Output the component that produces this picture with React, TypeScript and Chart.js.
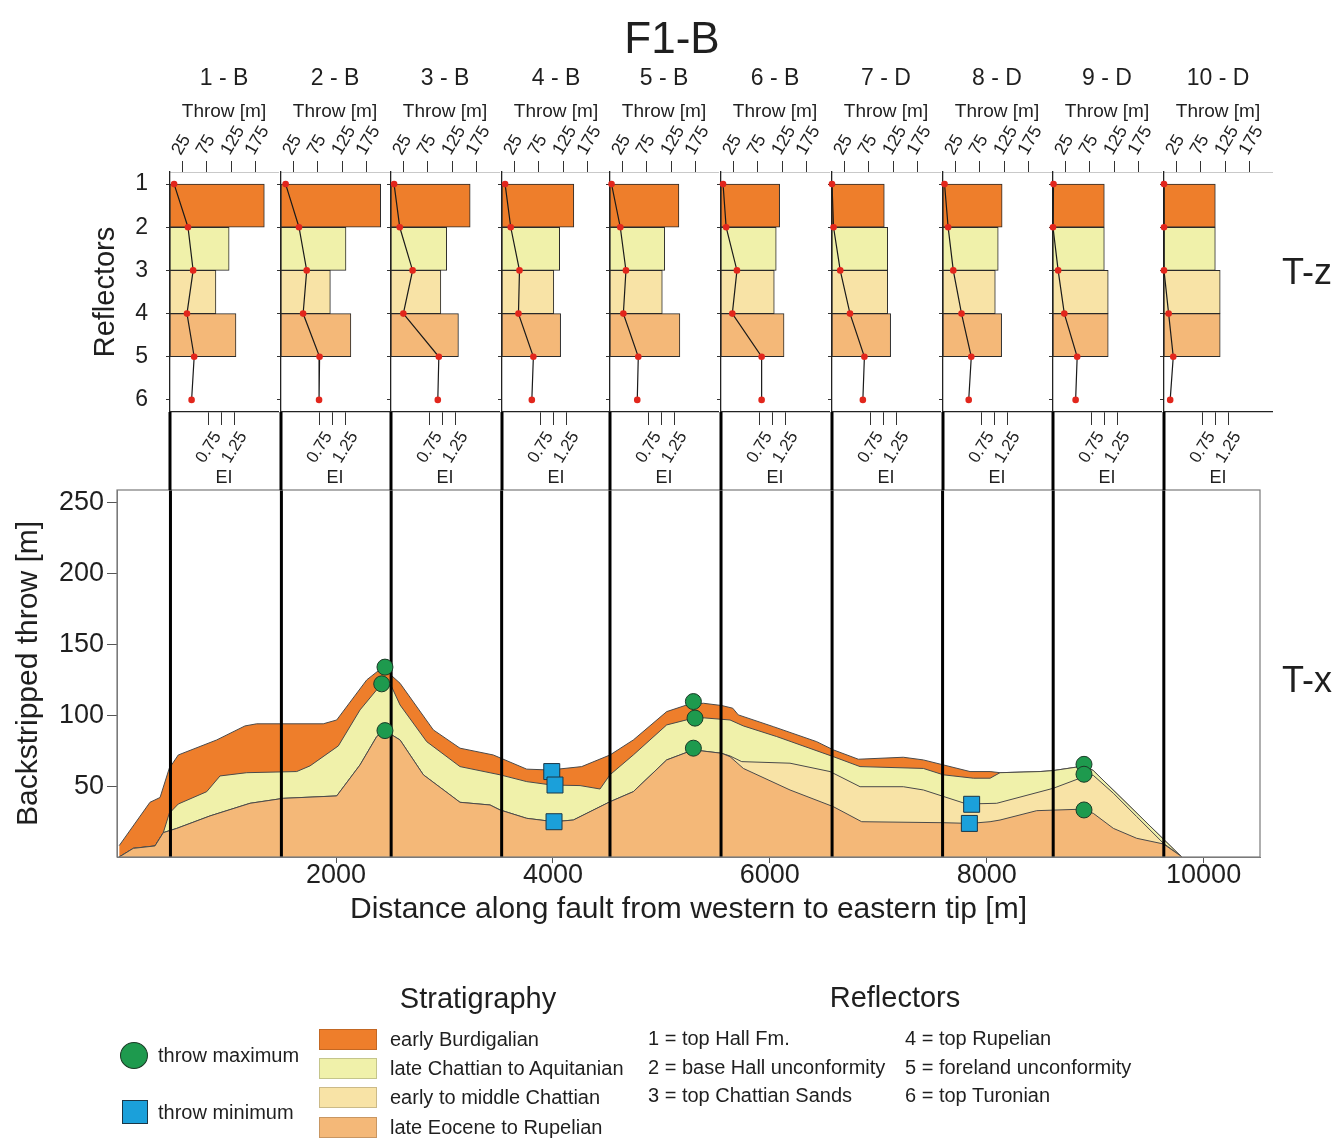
import React, { useEffect, useRef } from 'react';
import { Chart, registerables } from 'chart.js';

Chart.register(...registerables);

const FONT = "'Liberation Sans', Arial, Helvetica, sans-serif";
const INK = '#1f1f1f';

// ---------------- T-z panels ----------------
const panelLabels = ['1 - B', '2 - B', '3 - B', '4 - B', '5 - B', '6 - B', '7 - D', '8 - D', '9 - D', '10 - D'];
const panelPositions = [473, 1496, 2508, 3527, 4526, 5550, 6574, 7593, 8613, 9633]; // m along fault

const reflectors = [1, 2, 3, 4, 5, 6];
const reflectorTickLabels = ['1', '2', '3', '4', '5', '6'];
const throwTicks = [25, 75, 125, 175];
const throwTickLabels = ['25', '75', '125', '175'];
const eiTicks = [0.75, 1.0, 1.25];
const eiTickLabels = ['0.75', '', '1.25'];

// throw [m] of each reflector interval, per panel 1..10
const throwInterval12 = [193, 204, 162, 147, 141, 120, 107, 121, 105, 105];
const throwInterval23 = [121, 133, 114, 118, 112, 113, 114, 113, 105, 105];
const throwInterval34 = [94, 101, 102, 106, 107, 109, 114, 107, 113, 115];
const throwInterval45 = [135, 143, 138, 120, 143, 129, 120, 120, 113, 115];

// expansion index at each reflector, per panel 1..10
const eiAtReflector1 = [0.08, 0.09, 0.06, 0.06, 0.03, 0.04, 0.0, 0.03, 0.01, 0.0];
const eiAtReflector2 = [0.35, 0.35, 0.17, 0.17, 0.2, 0.1, 0.03, 0.1, 0.0, 0.0];
const eiAtReflector3 = [0.45, 0.5, 0.42, 0.34, 0.31, 0.31, 0.16, 0.2, 0.1, 0.0];
const eiAtReflector4 = [0.33, 0.43, 0.24, 0.32, 0.26, 0.22, 0.35, 0.36, 0.22, 0.09];
const eiAtReflector5 = [0.47, 0.75, 0.93, 0.61, 0.55, 0.79, 0.63, 0.55, 0.47, 0.18];
const eiAtReflector6 = [0.42, 0.74, 0.91, 0.58, 0.53, 0.79, 0.6, 0.5, 0.44, 0.12];

const layerNames = ['early Burdigalian', 'late Chattian to Aquitanian', 'early to middle Chattian', 'late Eocene to Rupelian'];
const layerColors = ['#EE7E2B', '#F0F1AA', '#F8E3A6', '#F4B878'];

// ---------------- T-x chart ----------------
const xTicks = [2000, 4000, 6000, 8000, 10000];
const xTickLabels = ['2000', '4000', '6000', '8000', '10000'];
const yTicks = [50, 100, 150, 200, 250];
const yTickLabels = ['50', '100', '150', '200', '250'];

const burdigalianTopX = [0, 284, 377, 462, 545, 899, 1160, 1268, 1882, 2006, 2283, 2399, 2440, 2590, 2897, 3143, 3450, 3758, 3973, 4265, 4526, 4741, 5049, 5234, 5387, 5556, 5658, 5709, 6032, 6432, 6586, 6816, 7231, 7416, 7600, 7846, 8031, 8123, 8492, 8614, 8860, 8897, 8983, 9798];
const burdigalianTopY = [8, 38.6, 42, 62.6, 72, 82.6, 92.5, 94, 94, 96.7, 125, 132, 133, 122.6, 89.7, 76.8, 72, 62, 61.4, 63.8, 72, 82.6, 102.6, 107.3, 108.5, 106.9, 105, 100.3, 92, 81.4, 75.6, 69, 70.4, 68.5, 65, 60.3, 60.3, 59.5, 60.3, 61, 63.8, 64.7, 61, 0];

const aquitanianTopX = [0, 130, 330, 407, 462, 545, 807, 930, 1176, 1637, 1760, 2021, 2221, 2375, 2421, 2513, 2590, 2836, 3143, 3512, 3758, 3989, 4250, 4434, 4526, 4741, 5049, 5295, 5326, 5633, 5756, 6063, 6586, 6832, 7416, 7600, 7877, 8031, 8123, 8492, 8614, 8860, 8897, 8983, 9798];
const aquitanianTopY = [0, 6.1, 7.8, 17.2, 30.8, 37.4, 46.1, 57.2, 59.5, 60.3, 64.3, 78.4, 103.8, 118, 122.6, 120, 107.3, 81.4, 63.8, 58, 53.2, 50.8, 50.4, 48, 58, 72, 93.2, 98, 98.6, 96.7, 92.5, 85, 70.8, 63.8, 62.5, 58, 55.6, 55.6, 59.5, 60.3, 61, 63.8, 64.7, 61, 0];

const chattianTopX = [0, 130, 330, 407, 531, 838, 1207, 1514, 2006, 2221, 2375, 2451, 2513, 2590, 2805, 3143, 3420, 3512, 3758, 4010, 4188, 4526, 4741, 5049, 5295, 5556, 5633, 5741, 6186, 6555, 6832, 7231, 7416, 7816, 8092, 8614, 8860, 8897, 8983, 9168, 9383, 9629, 9782, 9798];
const chattianTopY = [0, 6.1, 7.8, 17.2, 20.2, 29, 37.9, 41.4, 43.1, 65, 85, 89.7, 86.2, 82.6, 58, 38.6, 36.7, 33.2, 27.3, 24.9, 26.1, 39, 46.1, 68.5, 75.6, 73.2, 71.3, 67.3, 66.2, 60.3, 49.6, 49.6, 47.3, 37.4, 37.9, 48.5, 55.6, 58, 57.6, 45, 28.5, 9.7, 1.1, 0];

const rupelianTopX = [0, 130, 330, 407, 531, 838, 1207, 1514, 2006, 2221, 2375, 2451, 2513, 2590, 2805, 3143, 3420, 3512, 3758, 4010, 4188, 4526, 4741, 5049, 5295, 5556, 5633, 5756, 6186, 6586, 6847, 7600, 7846, 8031, 8123, 8461, 8860, 8897, 8983, 9168, 9383, 9629, 9782, 9798];
const rupelianTopY = [0, 6.1, 7.8, 17.2, 20.2, 29, 37.9, 41.4, 43.1, 65, 85, 89.7, 86.2, 82.6, 58, 38.6, 36.7, 33.2, 27.3, 24.9, 26.1, 39, 46.1, 68.5, 75.6, 73.2, 70.8, 62.5, 47.3, 35.5, 24.9, 24.2, 23.7, 24.9, 26.1, 32.7, 33.7, 33.2, 30.8, 20.2, 13.2, 9.2, 1.1, 0];

const maxThrowX = [2451, 2421, 2451, 5295, 5310, 5295, 8897, 8897, 8897];
const maxThrowY = [134, 122.2, 89.2, 109.7, 98, 76.8, 65.4, 58.4, 33.2];
const minThrowX = [3989, 4019, 4010, 7861, 7840];
const minThrowY = [60.3, 50.8, 24.9, 37.2, 23.7];

const markerLabels = ['throw maximum', 'throw minimum'];
const reflectorLegend = ['1 = top Hall Fm.', '2 = base Hall unconformity', '3 = top Chattian Sands', '4 = top Rupelian', '5 = foreland unconformity', '6 = top Turonian'];

// ---------------- layout ----------------
const W = 1336;
const H = 1138;
const X_MIN = -20;
const X_MAX = 10520;
const Y_MIN = 0;
const Y_MAX = 259;
const MAIN = { left: 117, right: 1260, top: 490, bottom: 857 };
const X_AXIS_BOTTOM = 928;

const PANEL_TOP = 95;
const TOP_AXIS_H = 77;
const PLOT_H = 240;
const BOTTOM_AXIS_H = 78;
const PANEL_W = 108;
const PANEL_RIGHT_PAD = 4;
const FIRST_YW = 85;
const OTHER_YW = 6;
const THROW_MAX = 221;
const EI_MAX = 2.1;
const R_MIN = 0.72;
const R_MAX = 6.28;

function panelAxisX(i: number) {
  return Math.round(MAIN.left + ((panelPositions[i] - X_MIN) / (X_MAX - X_MIN)) * (MAIN.right - MAIN.left));
}
function panelYW(i: number) {
  return i === 0 ? FIRST_YW : OTHER_YW;
}

const pts = (xs: number[], ys: (number | null)[]) => xs.map((x, i) => ({ x, y: ys[i] }));

const stemPlugin = {
  id: 'stem',
  afterDraw(chart: any) {
    const { ctx, chartArea: a } = chart;
    ctx.save();
    ctx.strokeStyle = '#000';
    ctx.lineWidth = 3;
    ctx.beginPath();
    ctx.moveTo(a.left, a.bottom);
    ctx.lineTo(a.left, chart.height);
    ctx.stroke();
    ctx.restore();
  },
};

const framePlugin = {
  id: 'frame',
  afterDatasetsDraw(chart: any) {
    const { ctx, chartArea: a } = chart;
    ctx.save();
    ctx.strokeStyle = '#7a7a7a';
    ctx.lineWidth = 1.2;
    ctx.strokeRect(a.left, a.top, a.right - a.left, a.bottom - a.top);
    ctx.restore();
  },
};

function panelConfig(i: number): any {
  const first = i === 0;
  const yw = panelYW(i);
  const intervals = [throwInterval12, throwInterval23, throwInterval34, throwInterval45];
  const eiRows = [eiAtReflector1, eiAtReflector2, eiAtReflector3, eiAtReflector4, eiAtReflector5, eiAtReflector6];
  return {
    type: 'bar',
    data: {
      datasets: [
        {
          type: 'line',
          label: 'EI',
          indexAxis: 'y',
          xAxisID: 'x2',
          yAxisID: 'y',
          data: reflectors.map((r, k) => ({ x: eiRows[k][i], y: r })),
          borderColor: '#1a1a1a',
          borderWidth: 1.2,
          pointRadius: 3.3,
          pointBackgroundColor: '#E2261C',
          pointBorderWidth: 0,
          tension: 0,
          clip: false,
        },
        {
          type: 'bar',
          label: 'Throw',
          xAxisID: 'x',
          yAxisID: 'y',
          data: intervals.map((t, k) => ({ x: t[i], y: (reflectors[k] + reflectors[k + 1]) / 2 })),
          backgroundColor: layerColors,
          borderColor: '#2a2a2a',
          borderWidth: 1,
          borderSkipped: false,
          categoryPercentage: 1,
          barPercentage: 1,
        },
      ],
    },
    options: {
      indexAxis: 'y',
      animation: false,
      responsive: false,
      maintainAspectRatio: false,
      layout: { padding: { left: 0, right: PANEL_RIGHT_PAD, top: 0, bottom: 0 } },
      plugins: { legend: { display: false }, tooltip: { enabled: false }, title: { display: false } },
      scales: {
        x: {
          type: 'linear',
          position: 'top',
          min: 0,
          max: THROW_MAX,
          offset: false,
          afterBuildTicks: (s: any) => {
            s.ticks = throwTicks.map((value) => ({ value }));
          },
          ticks: {
            callback: (_v: any, k: number) => throwTickLabels[k],
            font: { size: 18, family: FONT },
            color: INK,
            minRotation: 60,
            maxRotation: 60,
            autoSkip: false,
            padding: 2,
            labelOffset: 13,
          },
          grid: { drawOnChartArea: false, drawTicks: true, tickLength: 11, tickColor: '#333', tickWidth: 1 },
          border: { display: true, color: '#c9c9c9', width: 1 },
          title: { display: true, text: 'Throw [m]', font: { size: 19, family: FONT }, color: INK, padding: { top: 5, bottom: 0 } },
          afterFit: (s: any) => {
            s.height = TOP_AXIS_H;
            s.paddingLeft = 0;
            s.paddingRight = 0;
          },
        },
        x2: {
          type: 'linear',
          position: 'bottom',
          min: 0,
          max: EI_MAX,
          offset: false,
          afterBuildTicks: (s: any) => {
            s.ticks = eiTicks.map((value) => ({ value }));
          },
          ticks: {
            callback: (_v: any, k: number) => eiTickLabels[k],
            font: { size: 17, family: FONT },
            color: INK,
            minRotation: 58,
            maxRotation: 58,
            autoSkip: false,
            padding: 3,
            labelOffset: 9,
          },
          grid: { drawOnChartArea: false, drawTicks: true, tickLength: 13, tickColor: '#333', tickWidth: 1 },
          border: { display: true, color: '#222', width: 1.3 },
          title: { display: true, text: 'EI', font: { size: 18, family: FONT }, color: INK, padding: { top: 0, bottom: 1 } },
          afterFit: (s: any) => {
            s.height = BOTTOM_AXIS_H;
            s.paddingLeft = 0;
            s.paddingRight = 0;
          },
        },
        y: {
          type: 'linear',
          position: 'left',
          reverse: true,
          min: R_MIN,
          max: R_MAX,
          offset: false,
          afterBuildTicks: (s: any) => {
            s.ticks = reflectors.map((value) => ({ value }));
          },
          ticks: {
            display: first,
            callback: (_v: any, k: number) => reflectorTickLabels[k],
            font: { size: 23, family: FONT },
            color: INK,
            padding: 18,
          },
          grid: { drawOnChartArea: false, drawTicks: true, tickLength: 4, tickColor: '#333', tickWidth: 1, offset: false },
          border: { display: true, color: '#222', width: 1.3 },
          title: { display: first, text: 'Reflectors', font: { size: 29, family: FONT }, color: INK, padding: { top: 4, bottom: 0 } },
          afterFit: (s: any) => {
            s.width = yw;
            s.paddingTop = 0;
            s.paddingBottom = 0;
          },
        },
      },
    },
    plugins: [stemPlugin],
  };
}

function mainConfig(): any {
  const area = (label: string, xs: number[], ys: number[], color: string) => ({
    type: 'line',
    label,
    data: pts(xs, ys),
    backgroundColor: color,
    borderColor: '#4a4a4a',
    borderWidth: 1,
    fill: 'origin',
    pointRadius: 0,
    tension: 0,
  });
  const verticals = panelPositions.flatMap((p) => [
    { x: p, y: Y_MIN },
    { x: p, y: Y_MAX },
    { x: p, y: null },
  ]);
  return {
    type: 'line',
    data: {
      datasets: [
        {
          label: markerLabels[0],
          data: pts(maxThrowX, maxThrowY),
          showLine: false,
          pointStyle: 'circle',
          pointRadius: 8,
          pointBackgroundColor: '#1E9A4E',
          pointBorderColor: '#1c3b27',
          pointBorderWidth: 1,
        },
        {
          label: markerLabels[1],
          data: pts(minThrowX, minThrowY),
          showLine: false,
          pointStyle: 'rect',
          pointRadius: 11.3,
          pointBackgroundColor: '#1BA0DA',
          pointBorderColor: '#1b3646',
          pointBorderWidth: 1,
        },
        {
          label: 'sections',
          data: verticals,
          borderColor: '#000',
          borderWidth: 3,
          pointRadius: 0,
          spanGaps: false,
          fill: false,
        },
        area(layerNames[3], rupelianTopX, rupelianTopY, layerColors[3]),
        area(layerNames[2], chattianTopX, chattianTopY, layerColors[2]),
        area(layerNames[1], aquitanianTopX, aquitanianTopY, layerColors[1]),
        area(layerNames[0], burdigalianTopX, burdigalianTopY, layerColors[0]),
      ],
    },
    options: {
      animation: false,
      responsive: false,
      maintainAspectRatio: false,
      layout: { padding: { left: 8, right: W - MAIN.right, top: MAIN.top, bottom: H - X_AXIS_BOTTOM } },
      plugins: { legend: { display: false }, tooltip: { enabled: false } },
      scales: {
        x: {
          type: 'linear',
          min: X_MIN,
          max: X_MAX,
          afterBuildTicks: (s: any) => {
            s.ticks = xTicks.map((value) => ({ value }));
          },
          ticks: {
            callback: (_v: any, k: number) => xTickLabels[k],
            font: { size: 27, family: FONT },
            color: INK,
            padding: -4,
            maxRotation: 0,
            autoSkip: false,
          },
          grid: { drawOnChartArea: false, drawTicks: true, tickLength: 6, tickColor: '#555' },
          border: { display: true, color: '#7a7a7a' },
          title: {
            display: true,
            text: 'Distance along fault from western to eastern tip [m]',
            font: { size: 30, family: FONT },
            color: INK,
            padding: 0,
          },
          afterFit: (s: any) => {
            s.height = X_AXIS_BOTTOM - MAIN.bottom;
            s.paddingLeft = 0;
            s.paddingRight = 0;
          },
        },
        y: {
          type: 'linear',
          min: Y_MIN,
          max: Y_MAX,
          afterBuildTicks: (s: any) => {
            s.ticks = yTicks.map((value) => ({ value }));
          },
          ticks: {
            callback: (_v: any, k: number) => yTickLabels[k],
            font: { size: 27, family: FONT },
            color: INK,
            padding: 3,
          },
          grid: { drawOnChartArea: false, drawTicks: true, tickLength: 10, tickColor: '#555' },
          border: { display: true, color: '#7a7a7a' },
          title: {
            display: true,
            text: 'Backstripped throw [m]',
            font: { size: 30, family: FONT },
            color: INK,
            padding: { top: 3, bottom: 0 },
          },
          afterFit: (s: any) => {
            s.width = MAIN.left - 8;
            s.paddingTop = 0;
            s.paddingBottom = 0;
          },
        },
      },
    },
    plugins: [framePlugin],
  };
}

const Txt = ({ x, y, size, children, left = false }: any) => (
  <div
    style={{
      position: 'absolute',
      left: x,
      top: y,
      transform: left ? 'translate(0,-50%)' : 'translate(-50%,-50%)',
      fontSize: size,
      fontFamily: FONT,
      color: INK,
      whiteSpace: 'nowrap',
      lineHeight: 1,
    }}
  >
    {children}
  </div>
);

export default function App() {
  const mainRef = useRef<HTMLCanvasElement | null>(null);
  const panelRefs = useRef<(HTMLCanvasElement | null)[]>([]);

  useEffect(() => {
    Chart.defaults.font.family = FONT;
    Chart.defaults.color = INK;
    const charts: Chart[] = [];
    if (mainRef.current) charts.push(new Chart(mainRef.current, mainConfig()));
    panelRefs.current.forEach((c, i) => {
      if (c) charts.push(new Chart(c, panelConfig(i)));
    });
    return () => charts.forEach((c) => c.destroy());
  }, []);

  const panelH = TOP_AXIS_H + PLOT_H + BOTTOM_AXIS_H;
  const swatchTops = [1029, 1058, 1087, 1117];

  return (
    <div style={{ position: 'absolute', left: 0, top: 0, width: W, height: H, background: '#fff', overflow: 'hidden' }}>
      <canvas ref={mainRef} width={W} height={H} style={{ position: 'absolute', left: 0, top: 0, width: W, height: H }} />
      {panelLabels.map((_, i) => {
        const yw = panelYW(i);
        const w = yw + PANEL_W + PANEL_RIGHT_PAD;
        return (
          <canvas
            key={'p' + i}
            ref={(el) => {
              panelRefs.current[i] = el;
            }}
            width={w}
            height={panelH}
            style={{ position: 'absolute', left: panelAxisX(i) - yw, top: PANEL_TOP, width: w, height: panelH }}
          />
        );
      })}
      <Txt x={672} y={38} size={44}>F1-B</Txt>
      {panelLabels.map((t, i) => (
        <Txt key={'t' + i} x={panelAxisX(i) + PANEL_W / 2} y={77} size={23}>
          {t}
        </Txt>
      ))}
      <Txt x={1307} y={272} size={36}>T-z</Txt>
      <Txt x={1307} y={680} size={36}>T-x</Txt>

      {/* legend: markers */}
      <div style={{ position: 'absolute', left: 120, top: 1042, width: 28, height: 27, borderRadius: '50%', background: '#1E9A4E', border: '1px solid #1c3b27', boxSizing: 'border-box' }} />
      <div style={{ position: 'absolute', left: 122, top: 1100, width: 26, height: 24, background: '#1BA0DA', border: '1px solid #1b3646', boxSizing: 'border-box' }} />
      <Txt x={158} y={1055} size={20} left>{markerLabels[0]}</Txt>
      <Txt x={158} y={1112} size={20} left>{markerLabels[1]}</Txt>

      {/* legend: stratigraphy */}
      <Txt x={478} y={998} size={29}>Stratigraphy</Txt>
      {layerNames.map((n, i) => (
        <React.Fragment key={'s' + i}>
          <div style={{ position: 'absolute', left: 319, top: swatchTops[i], width: 58, height: 21, background: layerColors[i], border: '1px solid rgba(0,0,0,0.18)', boxSizing: 'border-box' }} />
          <Txt x={390} y={swatchTops[i] + 10} size={20} left>{n}</Txt>
        </React.Fragment>
      ))}

      {/* legend: reflectors */}
      <Txt x={895} y={997} size={29}>Reflectors</Txt>
      {reflectorLegend.map((t, i) => (
        <Txt key={'r' + i} x={i < 3 ? 648 : 905} y={[1038, 1067, 1095][i % 3]} size={20} left>
          {t}
        </Txt>
      ))}
    </div>
  );
}
